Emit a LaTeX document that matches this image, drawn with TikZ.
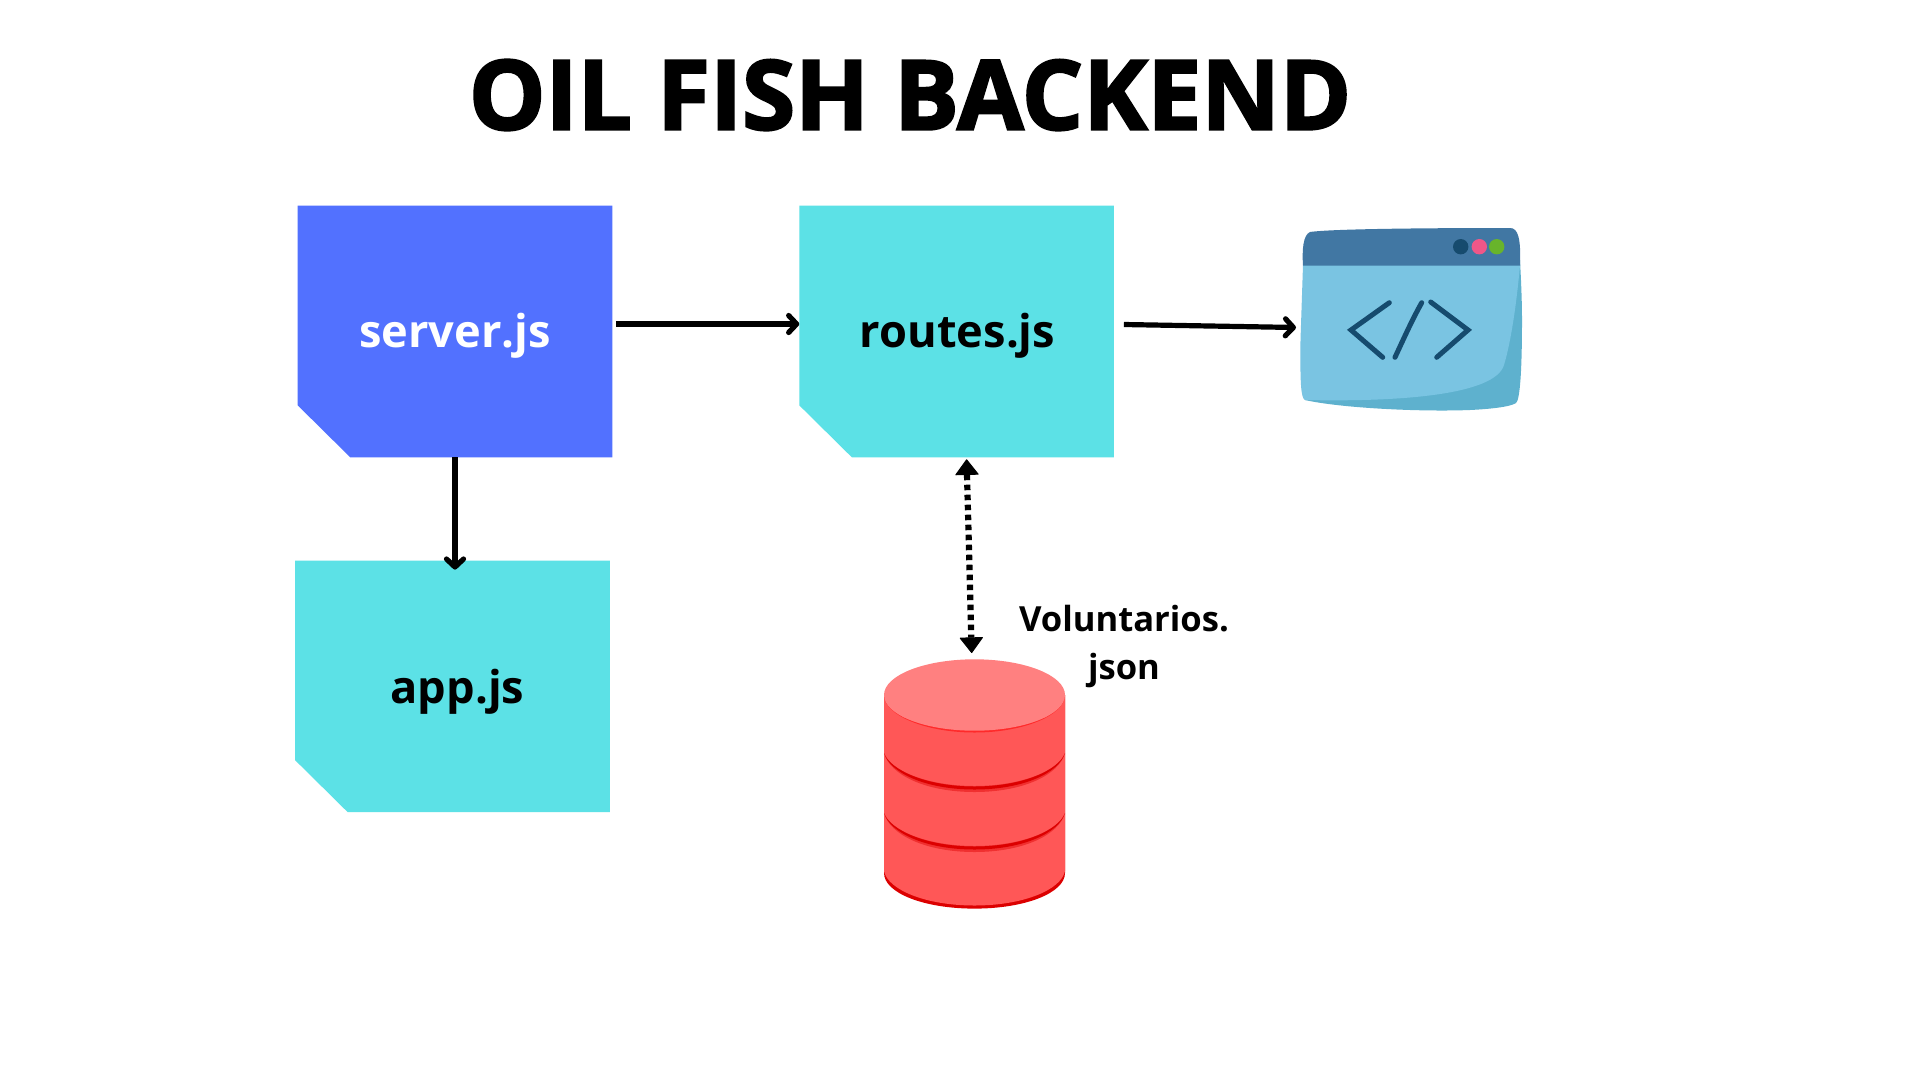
\documentclass[tikz,border=0pt]{standalone}
\usepackage{fontspec}
\setmainfont{Open Sans}
\newfontfamily\titlefont[BoldFeatures={FakeBold=2.4}]{Open Sans}
\usetikzlibrary{arrows.meta}
\definecolor{blueNote}{HTML}{5271FF}
\definecolor{tealNote}{HTML}{5CE1E6}
\definecolor{dbBody}{HTML}{FF5757}
\definecolor{dbTop}{HTML}{FF8080}
\definecolor{dbRim}{HTML}{FF2A2A}
\definecolor{dbDark}{HTML}{DC0000}
\definecolor{dbSoft}{HTML}{F03030}
\definecolor{winBody}{HTML}{7AC4E2}
\definecolor{winShade}{HTML}{5EB1CE}
\definecolor{winHead}{HTML}{4177A3}
\definecolor{winDark}{HTML}{164B6E}
\definecolor{winPink}{HTML}{EF5788}
\definecolor{winGreen}{HTML}{68B42B}
\tikzset{
  note/.style={minimum width=314.7pt,minimum height=251.6pt,inner sep=0pt,outer sep=0pt,
    font=\fontsize{45.2}{52}\bfseries,text height=32pt,text depth=0pt,
    path picture={\fill[#1]
      (path picture bounding box.north west) -- (path picture bounding box.north east)
      -- (path picture bounding box.south east)
      -- ([xshift=52.6pt]path picture bounding box.south west)
      -- ([yshift=52pt]path picture bounding box.south west) -- cycle;}},
  flow/.style={line width=5.2pt,-{Straight Barb[length=8pt,width=17pt,line width=5.2pt,round]}},
  link/.style={line width=6.2pt,dash pattern=on 5.5pt off 4.5pt,
    {Triangle[length=16pt,width=24pt,round,line width=1pt]}-{Triangle[length=16pt,width=24pt,round,line width=1pt]}},
  code/.style={draw=winDark,line width=5pt,line cap=round,line join=miter,fill=none}
}
\begin{document}
\begin{tikzpicture}[x=1pt,y=-1pt]
\useasboundingbox (0,0) rectangle (1920,1080);
\fill[white] (0,0) rectangle (1920,1080);
\node[inner sep=0pt,font=\fontsize{96.5}{110}\titlefont\bfseries] (title) at (910,95) {OIL FISH BACKEND};
\node[note=blueNote,text=white] (server) at (455,331.5) {server.js};
\node[note=tealNote] (routes) at (956.6,331.5) {\hspace*{2pt}routes.js};
\node[note=tealNote,text height=34pt] (app) at (452.5,686.4) {\hspace*{10pt}app.js};
% database
\fill[dbDark] (884,873) .. controls (884,893) and (924,908.6) .. (974.5,908.6) .. controls (1025,908.6) and (1065,893) .. (1065,873) -- (1065,695) -- (884,695) -- cycle;
\fill[dbBody] (884,871) .. controls (888,890) and (926,905.5) .. (974.5,905.5) .. controls (1023,905.5) and (1061,890) .. (1065,871) -- (1065,695) -- (884,695) -- cycle;
\foreach \yy in {753,813} {
  \fill[dbSoft] (884,\yy) .. controls (890,\yy+22) and (926,\yy+39) .. (974.5,\yy+39) .. controls (1023,\yy+39) and (1059,\yy+22) .. (1065,\yy) .. controls (1059,\yy+17) and (1023,\yy+33) .. (974.5,\yy+33) .. controls (926,\yy+33) and (890,\yy+17) .. (884,\yy) -- cycle;
  \fill[dbDark] (884,\yy) .. controls (890,\yy+20) and (926,\yy+36.5) .. (974.5,\yy+36.5) .. controls (1023,\yy+36.5) and (1059,\yy+20) .. (1065,\yy) .. controls (1059,\yy+17) and (1023,\yy+33.5) .. (974.5,\yy+33.5) .. controls (926,\yy+33.5) and (890,\yy+17) .. (884,\yy) -- cycle;
}
\fill[dbRim] (884,695) .. controls (884,715) and (925,732.5) .. (974.5,732.5) .. controls (1024,732.5) and (1065,715) .. (1065,695) -- cycle;
\coordinate (db) at (971.7,659);
\fill[dbTop] (974.5,695) ellipse [x radius=90.5pt,y radius=35.7pt];
\node[align=center,inner sep=0pt,font=\fontsize{34.6}{47.5}\bfseries] (dbname) at (1124,646.5) {Voluntarios.\\json};
% browser window
\fill[winShade] (1305,400) .. controls (1340,408) and (1420,412) .. (1470,410) .. controls (1490,409) and (1510,407) .. (1516,403) .. controls (1520,400) and (1522,370) .. (1522,320) .. controls (1522,300) and (1521,280) .. (1520,260) -- (1400,260) -- cycle;
\fill[winBody] (1303,265) -- (1520,265) .. controls (1516,310) and (1510,345) .. (1504,365) .. controls (1495,395) and (1400,402) .. (1305,400) .. controls (1301,398) and (1300,385) .. (1300.5,340) -- cycle;
\fill[winHead] (1303,265.7) .. controls (1302,250) and (1303,235) .. (1310,232) .. controls (1330,229) and (1420,228) .. (1510,228) .. controls (1518,228) and (1521,238) .. (1520,265.7) -- cycle;
\fill[winDark] (1460.7,246.7) circle [radius=7.7pt];
\fill[winPink] (1479.3,246.7) circle [radius=7.7pt];
\fill[winGreen] (1496.7,246.7) circle [radius=7.7pt];
\draw[code] (1389.3,302.7) -- (1351,330) -- (1382.7,357.3);
\draw[code] (1421.7,302.7) .. controls (1412,320) and (1404,338) .. (1395,357.3);
\draw[code] (1430.7,302) -- (1468,330) -- (1436.7,357.3);
\coordinate (window) at (1300,330);
% connectors
\draw[flow] ([shift={(3.5,-7.5)}]server.east) -- ([shift={(0,-7.5)}]routes.west);
\draw[flow] ([shift={(10,-7)}]routes.east) -- ([shift={(-4,-2.5)}]window);
\draw[flow] (server.south) -- ([yshift=-9pt]app.north -| server.south);
\draw[link] ([shift={(10,2)}]routes.south) -- ([yshift=6pt]db);
\end{tikzpicture}
\end{document}
